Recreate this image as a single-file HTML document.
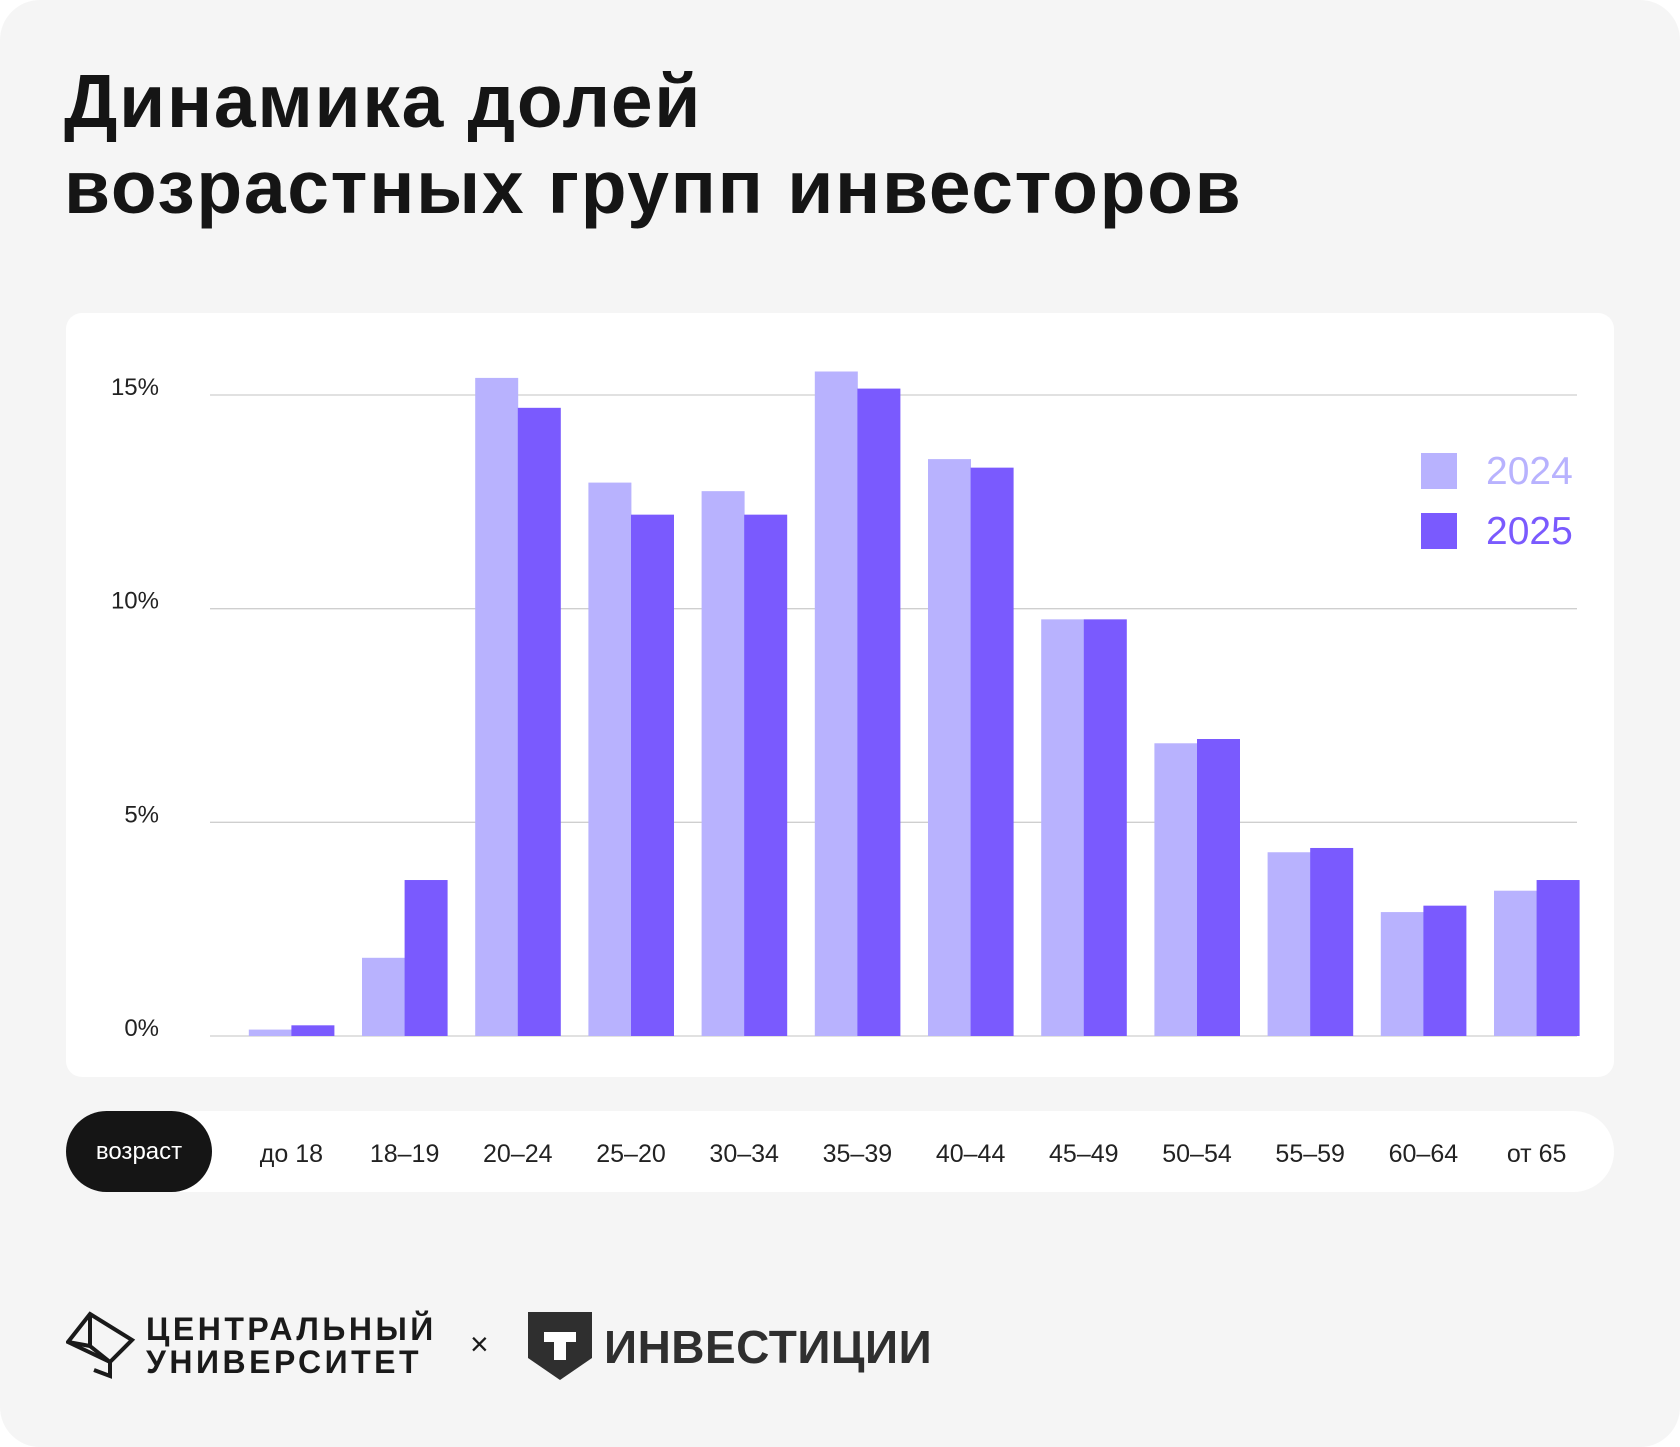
<!DOCTYPE html>
<html><head><meta charset="utf-8">
<style>
html,body{margin:0;padding:0;background:#fff;}
body{width:1680px;height:1447px;position:relative;overflow:hidden;font-family:"Liberation Sans","Noto Sans CJK SC",sans-serif;}
#page{position:absolute;left:0;top:0;width:1680px;height:1447px;background:#f5f5f5;border-radius:40px;}
.title{position:absolute;left:64px;top:58px;font-size:75px;font-weight:bold;line-height:86px;color:#151515;letter-spacing:1.7px;}
#card{position:absolute;left:66px;top:313px;width:1548px;height:764px;background:#fff;border-radius:16px;}
#axisbar{position:absolute;left:66px;top:1111px;width:1548px;height:81px;background:#fff;border-radius:41px;}
#pill{position:absolute;left:66px;top:1111px;width:146px;height:81px;background:#151515;border-radius:41px;color:#fff;font-size:24px;line-height:81px;text-align:center;}
.logo{position:absolute;font-weight:bold;color:#1a1a1a;}
</style></head>
<body>
<div id="page">
<div class="title">Динамика долей<br>возрастных групп инвесторов</div>
<div id="card"></div>
<div id="axisbar"></div>
<div id="pill">возраст</div>
<svg id="chart" width="1680" height="1447" style="position:absolute;left:0;top:0"></svg>
<div style="position:absolute;left:66px;top:1310px;">
<svg width="70" height="70" viewBox="0 0 70 70"><g fill="none" stroke="#1a1a1a" stroke-width="4"><path d="M24 4 L66 30 L44 52 L2 32 Z"/><path d="M24 4 L24 36 L44 52"/><path d="M2 32 L24 36"/><path d="M44 52 L44 66 L28 60"/></g></svg>
</div>
<div class="logo" style="left:146px;top:1313px;font-size:32px;line-height:33px;letter-spacing:3.5px;">ЦЕНТРАЛЬНЫЙ<br>УНИВЕРСИТЕТ</div>
<div class="logo" style="left:470px;top:1326px;font-size:32px;font-weight:normal;">×</div>
<svg style="position:absolute;left:528px;top:1312px" width="64" height="68" viewBox="0 0 64 68"><path d="M0 0 H64 V46 L32 68 L0 46 Z" fill="#2f2f2f"/><path d="M16 20 H48 V30 H38 V48 H26 V30 H16 Z" fill="#fff"/></svg>
<div class="logo" style="left:604px;top:1320px;font-size:46px;color:#2f2f2f;letter-spacing:0.5px;">ИНВЕСТИЦИИ</div>
</div>
<script>
const categories=["до 18","18–19","20–24","25–20","30–34","35–39","40–44","45–49","50–54","55–59","60–64","от 65"];
const values2024=[0.15,1.83,15.4,12.95,12.75,15.55,13.5,9.75,6.85,4.3,2.9,3.4];
const values2025=[0.25,3.65,14.7,12.2,12.2,15.15,13.3,9.75,6.95,4.4,3.05,3.65];
const yTicks=[0,5,10,15];
const yTickLabels=["0%","5%","10%","15%"];
const seriesNames=["2024","2025"];

const NS="http://www.w3.org/2000/svg";
const svg=document.getElementById('chart');
const plotL=210,plotR=1577,y0=1036,pxPerUnit=(1036-395)/15;
const firstC=291.4,step=113.2,barW=42.6;
const yScale=v=>y0-v*pxPerUnit;
const xCenter=i=>firstC+i*step;
const colors=["#b8b2fe","#7a5afe"];
function mk(tag,attrs){const e=document.createElementNS(NS,tag);for(const k in attrs)e.setAttribute(k,attrs[k]);svg.appendChild(e);return e;}
yTicks.forEach((t,i)=>{
  const g=mk('line',{x1:plotL,x2:plotR,y1:yScale(t),y2:yScale(t),stroke:'#cfcfcf','stroke-width':1.3});
  
  
  const tx=mk('text',{x:159,y:yScale(t),'text-anchor':'end','font-size':24,fill:'#222','font-family':'Liberation Sans, sans-serif'});
  tx.textContent=yTickLabels[i];
  
  
});
[values2024,values2025].forEach((vals,s)=>{
  vals.forEach((v,i)=>{
    const x=xCenter(i)+(s===0?-barW:0);
    const r=mk('rect',{x:x,y:yScale(v),width:barW+0.4,height:y0-yScale(v),fill:colors[s]});
    
    
  });
});
categories.forEach((c,i)=>{
  const t=mk('text',{x:xCenter(i),y:1162,'text-anchor':'middle','font-size':25,fill:'#222','font-family':'Liberation Sans, sans-serif'});
  t.textContent=c;
  
  
});
seriesNames.forEach((n,s)=>{
  const ly=453+s*60;
  const sq=mk('rect',{x:1421,y:ly,width:36,height:36,fill:colors[s]});
  
  
  const t=mk('text',{x:1486,y:ly+31,'font-size':39,fill:colors[s],'font-family':'Liberation Sans, sans-serif'});
  t.textContent=n;
  
  
});
</script>
</body></html>
